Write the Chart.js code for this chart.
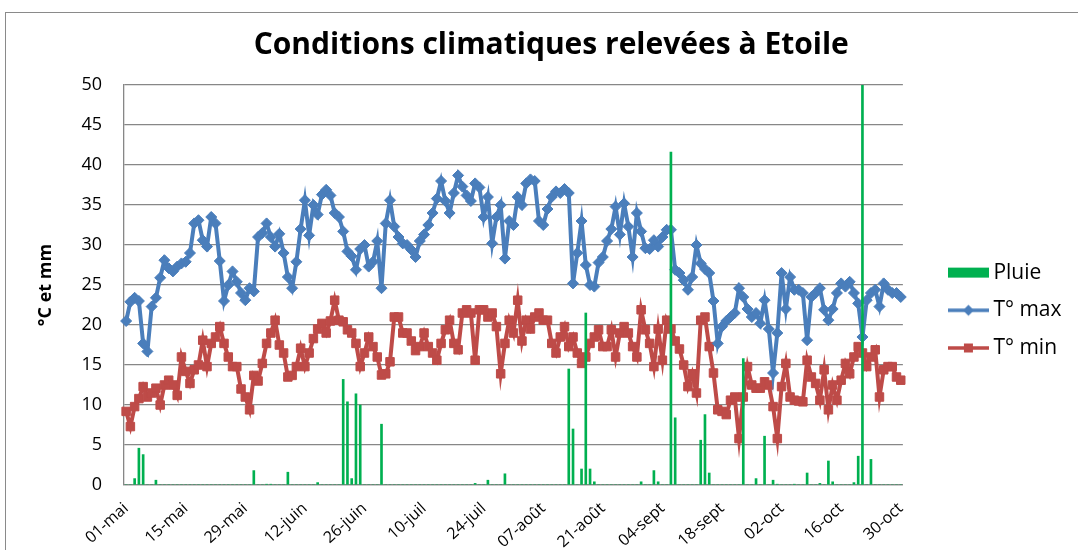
<!DOCTYPE html>
<html><head><meta charset="utf-8">
<script src="https://cdn.jsdelivr.net/npm/chart.js@4/dist/chart.umd.min.js"></script>
<style>
html,body{margin:0;padding:0;background:#fff;overflow:hidden;width:1078px;height:550px}
#frame{position:absolute;left:5px;top:12px;width:1200px;height:700px;border:1.5px solid #8a8a8a;box-sizing:border-box}
#wrap{position:absolute;left:0;top:0;width:1078px;height:550px}
</style></head><body>
<div id="frame"></div>
<div id="wrap"><canvas id="c" width="1078" height="550"></canvas></div>
<script>
const months = ['mai','juin','juil','août','sept','oct'];
const monthDays = [31,30,31,31,30,30];
const tickLabels = ['01-mai','15-mai','29-mai','12-juin','26-juin','10-juil','24-juil','07-août','21-août','04-sept','18-sept','02-oct','16-oct','30-oct'];
const yTicks = [0,5,10,15,20,25,30,35,40,45,50];

const pluie = [
0,0,0.8,4.6,3.8,0,0,0.6,0,0,
0,0,0,0,0,0,0,0,0,0,
0,0,0,0,0,0,0,0,0,0,
1.8,0,0,0.1,0.1,0,0,0,1.6,0,
0,0,0,0,0,0.3,0,0,0,0,
0,13.2,10.4,0.8,11.4,10,0,0,0,0,
7.6,0,0,0,0,0,0,0,0,0,
0,0,0,0,0,0,0,0,0,0,
0,0,0.2,0,0,0.6,0,0,0,1.4,
0,0,0,0,0,0,0,0,0,0,
0,0,0,0,14.5,7,0,2,21.5,2,
0.4,0,0,0,0,0,0,0,0,0,
0,0.4,0,0,1.8,0.4,0,0,41.6,8.4,
0,0,0,0,0,5.6,8.8,1.5,0,0,
0,0,0,0,0,15.8,0,0,0.8,0,
6.1,0,0.6,0.1,0,0,0,0.1,0,0,
1.5,0,0,0.2,0,3,0.4,0,0,0,
0,0.3,3.6,50,0,3.2,0,0,0,0,
0,0,0];

const tmax = [
20.5,22.9,23.4,23,17.7,16.7,22.3,23.4,25.9,28.1,
27.1,26.7,27.3,27.7,27.9,29,32.7,33.1,30.6,29.8,
33.5,32.7,28,23,25,26.7,25.4,24,23.1,24.6,
24.2,31,31.5,32.7,31,29.8,31.4,29,26,24.6,
27.9,32,35.6,31.2,35,33.8,36.3,36.9,36.2,34,
33.5,31.7,29.2,28.6,26.9,29.5,30,27.3,27.9,30.5,
24.6,32.7,35.6,32.3,31,30.2,30,29.4,28.5,30.5,
31.3,32.5,34,35.8,38,35.5,34,36.5,38.7,37.3,
36.2,35.5,37.7,37.2,33.5,36,30.2,33.5,35,28.3,
33,32.5,36,35,37.7,38.2,38,33,32.5,34.5,
36,36.7,36.5,37,36.5,25.2,29,33,27.5,25,
24.8,27.8,28.5,30.5,32,34.8,31.3,35.2,32.3,28.5,
34,31.7,29.6,29.5,30.6,29.8,31,31.9,31.9,26.9,
26.5,25.6,24.4,26,30,27.7,27,26.5,23,17.7,
19.8,20.5,21,21.5,24.6,23.5,22,21,21.5,20.2,
23.1,19.5,14,19,26.5,22,26,24.4,24.4,24,
18.1,23.5,24,24.6,21.9,20.6,22,24,25.2,24.8,
25.4,24,22.7,18.5,23.1,24,24.4,22.3,25.2,24.4,
24,24,23.5];

const tmin = [
9.2,7.3,9.8,10.8,12.3,11,11.5,12.1,10,12.5,
13.1,12.5,11.2,16,14.2,12.7,14.4,15,18.1,14.8,
17.7,18.5,19.8,17.7,16,14.8,14.8,12,11,9.4,
13.7,13,15.2,17.7,19,20.6,17.5,16.5,13.5,13.7,
14.8,17.1,14.8,16.5,18.3,19.5,20.2,19,20.5,23.1,
20.6,20.4,19.4,19,17.7,14.8,16.5,18.5,17.3,16,
13.75,13.9,15.4,21,21,19,19,18,16.8,17.3,
19,17.3,16.5,15.6,17.7,19.4,20.6,17.7,16.9,21.5,
21.9,21.5,15.6,21.9,21.9,21,21.5,19.8,13.9,17.7,
20.6,19,23.1,18,20.6,19.5,21,21.5,20.6,20.6,
17.7,16.5,18.5,19.8,17.3,18.5,16.5,15.2,16,17.7,
18.5,19.4,17.3,17.3,19.4,16,19,19.8,19,17.3,
16,21.9,19.4,17.7,14.8,19.5,15.6,20.6,19.5,18,
17,15,12.3,13.9,11.5,20.6,21,17.3,14,9.4,
9.2,8.8,10.6,11,5.8,11,14.8,12.5,12.1,12.1,
12.9,12.5,9.8,5.8,12.3,15.2,11,10.6,10.5,10.4,
15.6,13.5,12.7,10.6,14.4,9.4,12.5,10.6,13.1,15.2,
13.9,16,17.3,16.5,14.8,16,16.9,11,14.4,14.8,
14.8,13.5,13.1];

const categories = [];
months.forEach((m, k) => {
  for (let d = 1; d <= monthDays[k]; d++) categories.push(String(d).padStart(2, '0') + '-' + m);
});

const colPluie = '#00b050', colMax = '#4a7ebb', colMin = '#be4b48';

function legendSymbol(kind, color) {
  const c = document.createElement('canvas');
  c.width = 41; c.height = 14;
  const g = c.getContext('2d');
  g.fillStyle = color; g.strokeStyle = color;
  if (kind === 'bar') {
    g.fillRect(0, 2, 41, 10);
  } else {
    g.lineWidth = 3.5;
    g.beginPath(); g.moveTo(0, 7); g.lineTo(41, 7); g.stroke();
    g.beginPath();
    if (kind === 'diamond') { g.moveTo(20.5, 1.5); g.lineTo(26, 7); g.lineTo(20.5, 12.5); g.lineTo(15, 7); g.closePath(); }
    else { g.rect(16, 2.5, 9, 9); }
    g.fill();
  }
  return c;
}
const symbols = [legendSymbol('bar', colPluie), legendSymbol('diamond', colMax), legendSymbol('square', colMin)];

Chart.defaults.font.family = "'Open Sans', sans-serif";
Chart.defaults.color = '#000';

new Chart(document.getElementById('c'), {
  data: {
    labels: categories,
    datasets: [
      { type: 'bar', label: 'Pluie', data: pluie, backgroundColor: colPluie, barThickness: 2, order: 0 },
      { type: 'line', label: 'T° max', data: tmax, borderColor: colMax, backgroundColor: colMax, borderWidth: 4,
        pointStyle: 'rectRot', pointRadius: 5.5, pointBorderWidth: 1, tension: 0, order: 1 },
      { type: 'line', label: 'T° min', data: tmin, borderColor: colMin, backgroundColor: colMin, borderWidth: 4,
        pointStyle: 'rect', pointRadius: 6, pointBorderWidth: 1, tension: 0, order: 2 }
    ]
  },
  options: {
    responsive: false, animation: false, devicePixelRatio: 1,
    layout: { padding: { left: 31, right: 6.5, top: 0, bottom: 0 } },
    plugins: {
      title: { display: true, text: 'Conditions climatiques relevées à Etoile', color: '#000',
        font: { size: 30, weight: 'bold' }, padding: { top: 27, bottom: 22 } },
      legend: {
        position: 'right', align: 'start',
        title: { display: true, text: '', padding: { top: 231, bottom: 0 } },
        labels: {
          usePointStyle: true, pointStyleWidth: 29, padding: 16.7, color: '#000',
          font: { size: 21 },
          generateLabels(chart) {
            const items = Chart.defaults.plugins.legend.labels.generateLabels(chart);
            items.forEach(it => { it.pointStyle = symbols[it.datasetIndex]; });
            return items;
          }
        }
      },
      tooltip: { enabled: false }
    },
    scales: {
      x: {
        grid: { display: false }, border: { color: '#878787', width: 1.3 },
        ticks: { autoSkip: false, maxRotation: 42, minRotation: 42, font: { size: 16 }, padding: 6,
          callback(v, i) { return tickLabels.includes(categories[i]) ? categories[i] : ''; } },
        afterFit(s) { s.height = 65; }
      },
      y: {
        min: 0, max: 50,
        afterBuildTicks(s) { s.ticks = yTicks.map(v => ({ value: v })); },
        ticks: { font: { size: 18 }, padding: 22 },
        grid: { color: '#878787', lineWidth: 1.3, drawTicks: false },
        border: { color: '#878787', width: 1.3 },
        title: { display: true, text: '°C et mm', font: { size: 18, weight: 'bold' } },
        afterFit(s) { s.width = 93; }
      },
      yR: {
        position: 'right', display: true,
        grid: { display: false }, ticks: { display: false }, border: { display: false },
        afterFit(s) { s.width = 34.3; }
      }
    }
  }
});
</script>
</body></html>
